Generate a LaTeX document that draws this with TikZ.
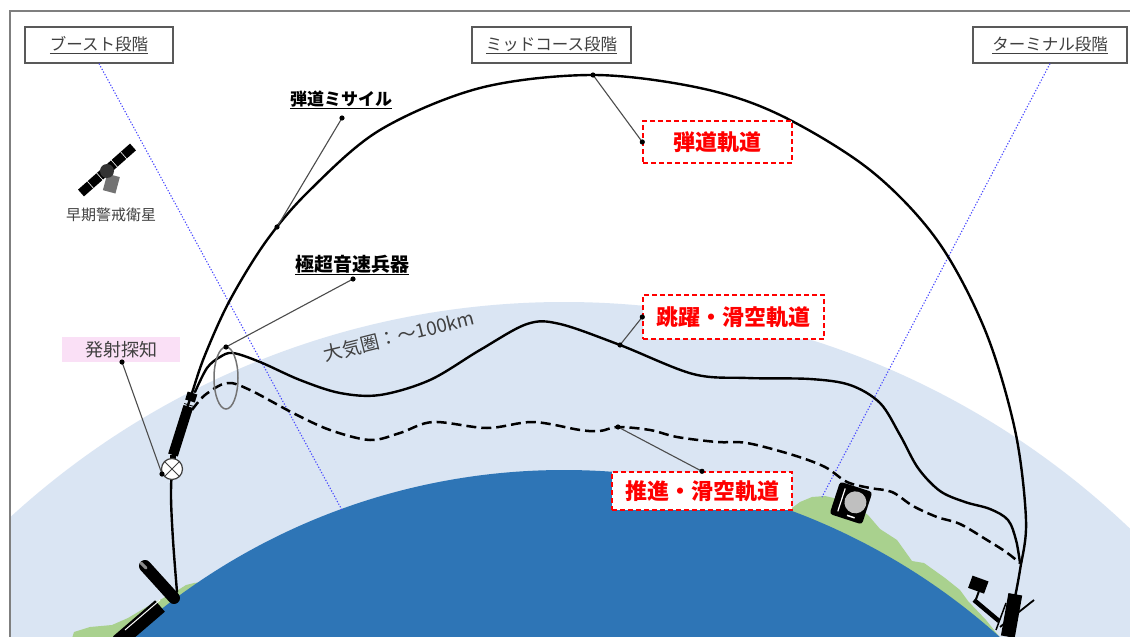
\documentclass[tikz,border=0pt]{standalone}
\usepackage{fontspec}
\newfontfamily\jp{Noto Sans CJK JP}
\usetikzlibrary{calc}
\definecolor{atmo}{RGB}{218,229,243}
\definecolor{sea}{RGB}{46,117,182}
\definecolor{land}{RGB}{169,209,142}
\definecolor{framegray}{RGB}{127,127,127}
\definecolor{pinkbg}{RGB}{250,224,246}
\definecolor{txtgray}{RGB}{64,64,64}
\definecolor{phaseblue}{RGB}{70,70,255}
\begin{document}
\begin{tikzpicture}[x=1pt,y=-1pt,
  traj/.style={line width=2.4pt, black, line cap=round, line join=round},
  glide/.style={line width=2.5pt, black, dash pattern=on 10pt off 5pt},
  conn/.style={line width=1.1pt, draw=black!70},
  phasebox/.style={draw=black!65, line width=1.2pt, fill=white, minimum height=36pt,
    inner sep=0pt, text=txtgray, font=\jp\fontsize{16.5}{18}\selectfont},
  redbox/.style={draw=red, dash pattern=on 5pt off 3pt, line width=1.4pt, fill=white,
    inner sep=0pt, text=red, font=\jp\bfseries\fontsize{22}{24}\selectfont},
  tag/.style={inner sep=1pt, text=black, font=\jp\bfseries\fontsize{17}{19}\selectfont},
  blueline/.style={draw=phaseblue, line width=1.1pt, dash pattern=on 1.2pt off 1.8pt},
]
\useasboundingbox (0,0) rectangle (1130,637);
\fill[white] (0,0) rectangle (1130,637);

% atmosphere, land and sea
\begin{scope}
  \clip (11,12) rectangle (1140,650);
  \fill[atmo] (564,1122) circle[radius=820];
  % coast on the right
  \fill[land] (785,515) -- (792,508) -- (800,502) -- (812,497) -- (825,496) -- (847,501)
    -- (868,515) -- (880,529) -- (897,540) -- (912,561) -- (924,563) -- (945,578)
    -- (960,590) -- (968,601) -- (986,620) -- (1002,640) -- (1010,660) -- (850,660) -- cycle;
  % coast on the left
  \fill[land] (194,583) -- (186,585) -- (175,592) -- (150,605) -- (128,618) -- (112,625)
    -- (90,627) -- (74,632) -- (70,645) -- (220,645) -- (220,580) -- cycle;
  \fill[sea] (564,1122) circle[radius=652];
\end{scope}

% frame
\draw[framegray, line width=1.5pt] (10,650) -- (10,11) -- (1140,11);

% phase boxes and their guide lines
\node[phasebox, minimum width=148] (boost) at (99,45) {\underline{ブースト段階}};
\node[phasebox, minimum width=159] (mid) at (551.5,45) {\underline{ミッドコース段階}};
\node[phasebox, minimum width=154] (term) at (1050,45) {\underline{ターミナル段階}};
\coordinate (boostfoot) at (342,510);
\coordinate (termfoot) at (822,497);
\draw[blueline] (boost.south) -- (boostfoot);
\draw[blueline] (term.south) -- (termfoot);

% ballistic trajectory
\draw[traj] plot[smooth, tension=0.55] coordinates {
  (177,592) (173,540) (171,495) (173,465) (182,425) (192,393) (205,355) (230,300)
  (267,240) (310,190) (380,130) (480,88) (593,75) (700,88) (780,115) (870,170)
  (937,240) (985,330) (1015,430) (1026,520) (1020,570) (1012,612)};

% skip-glide trajectory
\draw[traj] plot[smooth, tension=0.55] coordinates {
  (195,392) (207,368) (220,357) (233,353) (260,362) (300,380) (340,393) (380,395)
  (430,380) (480,350) (527,324) (560,324) (620,345) (693,374) (747,378) (810,379)
  (850,385) (880,403) (900,435) (918,468) (940,491) (965,502) (990,509) (1008,520)
  (1016,540) (1020,563)};

% boost-glide trajectory
\draw[glide] plot[smooth, tension=0.55] coordinates {
  (192,410) (205,395) (227,383) (250,390) (293,413) (330,430) (370,440) (400,433)
  (433,422) (487,428) (533,422) (580,430) (600,431) (618,427) (650,430) (677,437)
  (717,442) (747,443) (793,455) (825,467) (847,482) (870,488) (892,492) (913,506)
  (937,517) (960,524) (987,540) (1006,552) (1020,563)};

% glide vehicle marker
\draw[black!55, line width=1.5pt] (226,378) ellipse[x radius=12, y radius=31];

% missile in boost phase
\fill[black] (177.8,456.5) -- (168.2,453.5) -- (183.5,405) -- (193.1,408) -- cycle;
\fill[black] (185.2,399.5) -- (194.8,402.5) -- (197.3,394.5) -- (187.7,391.5) -- cycle;
\draw[black, line width=0.8pt] (184.3,403.5) -- (193.9,406.5);
\fill[black] (169.5,455) rectangle (176,460);

% detection marker
\node[circle, draw=black!75, fill=white, line width=1.2pt, minimum size=21, inner sep=0] (det) at (172,469) {};
\draw[black!75, line width=1pt] (det.north west) -- (det.south east) (det.north east) -- (det.south west);

% launcher on the left
\draw[black, line width=15pt] (118,642) -- (160,606);
\draw[black, line width=12pt, line cap=round] (145,566) -- (174,598);
\draw[black!45, line width=3pt, line cap=round] (141,563) -- (146,568);
\draw[white, line width=1pt] (125,630) -- (160,600);

% launchers on the right
\fill[black, rotate around={-20:(978,584)}] (970,578) rectangle (987,591);
\draw[black, line width=2pt] (979,591) -- (975,602);
\draw[black, line width=4.5pt] (974,600) -- (999,621);
\fill[black, rotate around={-10:(1012,613)}] (1005,594) rectangle (1019,637);
\draw[black, line width=1.8pt] (1000,627) -- (1034,600);
\draw[black, line width=1.5pt] (996,630) -- (1006,603);

% radar site
\begin{scope}[rotate around={-18:(851,503)}]
  \fill[black, rounded corners=3pt] (834,486) rectangle (868,520);
  \fill[black!25] (855,501) circle[radius=11];
  \draw[white, line width=1.2pt] (841,491) -- (841,515);
  \draw[white, line width=1.5pt] (851,516) -- (859,516);
\end{scope}

% early-warning satellite
\draw[black, line width=9pt] (81,193) -- (133,147);
\foreach \t in {0.18,0.36,0.64,0.82}
  \draw[white, line width=0.6pt] ($(81,193)!\t!(133,147)+(-3,-3.4)$) -- ($(81,193)!\t!(133,147)+(3,3.4)$);
\fill[black!55, rotate around={-15:(111,183)}] (105,175) rectangle (118,192);
\fill[black!80] (107,171) circle[radius=7];
\node[text=txtgray, font=\jp\fontsize{15}{17}\selectfont, inner sep=0] (sat) at (111,215) {早期警戒衛星};

% atmosphere label
\node[text=txtgray, font=\jp\fontsize{19}{21}\selectfont, rotate=14, inner sep=0] (atm) at (399,336) {大気圏：～100km};

% labels and leaders
\node[redbox, minimum width=149, minimum height=42] (ballred) at (717.5,142) {弾道軌道};
\node[redbox, minimum width=181, minimum height=44] (hgvred) at (733.5,317) {跳躍・滑空軌道};
\node[redbox, minimum width=180, minimum height=38] (bgred) at (702,491) {推進・滑空軌道};
\node[tag] (bmlabel) at (341,100) {\underline{弾道ミサイル}};
\node[tag, font=\jp\bfseries\fontsize{19}{21}\selectfont] (hgvlabel) at (352,265) {\underline{極超音速兵器}};
\node[fill=pinkbg, minimum width=118, minimum height=25, inner sep=0, text=txtgray,
  font=\jp\fontsize{18}{20}\selectfont] (detlabel) at (121,349.5) {発射探知};

\coordinate (apex) at (593,75);
\coordinate (bmdot) at (342,118);
\coordinate (bmcurve) at (277,227);
\coordinate (hgvdot) at (353,279);
\coordinate (ringtop) at (226,347);
\coordinate (skipcurve) at (620,345);
\coordinate (bgcurve) at (618,427);
\coordinate (detdot) at (122,362);
\coordinate (detend) at (162,474);

\draw[conn] (apex) -- (ballred.west);
\draw[conn] (bmdot) -- (bmcurve);
\draw[conn] (hgvdot) -- (ringtop);
\draw[conn] (hgvred.west) -- (skipcurve);
\draw[conn] (bgcurve) -- (bgred.north);
\draw[conn] (detdot) -- (detend);
\foreach \p in {apex,ballred.west,bmdot,bmcurve,hgvdot,ringtop,hgvred.west,skipcurve,bgcurve,bgred.north,detdot,detend}
  \fill[black] (\p) circle[radius=2.6];
\end{tikzpicture}
\end{document}
